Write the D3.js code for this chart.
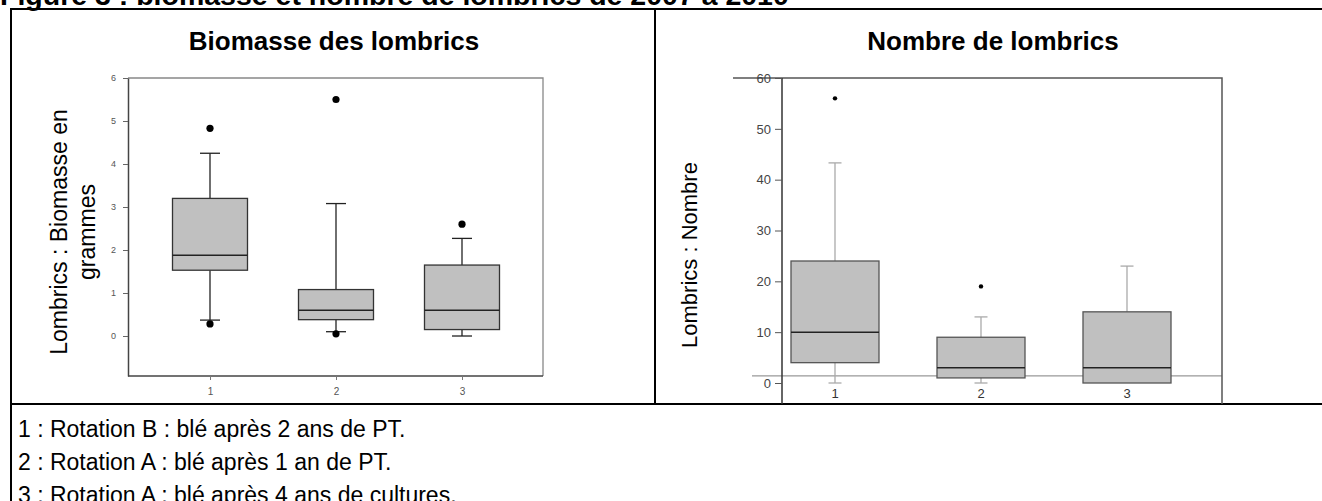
<!DOCTYPE html>
<html>
<head>
<meta charset="utf-8">
<script src="https://cdn.jsdelivr.net/npm/d3@7"></script>
<style>
  body { margin: 0; background: #fff; }
  svg { display: block; font-family: 'Liberation Sans', Arial, sans-serif; }
</style>
</head>
<body>
<svg id="fig" width="1322" height="501"></svg>
<script>
// groups shared by both panels
const groups = ['1', '2', '3'];

// Biomasse (g) : box statistics
const biomLow = [0.37, 0.1, 0];
const biomQ1 = [1.53, 0.38, 0.15];
const biomMedian = [1.88, 0.6, 0.6];
const biomQ3 = [3.2, 1.08, 1.65];
const biomHigh = [4.25, 3.08, 2.27];
const biomOutliers = [[4.83, 0.28], [5.5, 0.05], [2.6]];
const biomTicks = [0, 1, 2, 3, 4, 5, 6];

// Nombre : box statistics
const nbLow = [0, 0, null];
const nbQ1 = [4, 1, 0];
const nbMedian = [10, 3, 3];
const nbQ3 = [24, 9, 14];
const nbHigh = [43.3, 13, 23];
const nbOutliers = [[56], [19], []];
const nbTicks = [0, 10, 20, 30, 40, 50, 60];
const nbRefLine = 1.4;

const legendLines = [
  '1 : Rotation B : blé après 2 ans de PT.',
  '2 : Rotation A : blé après 1 an de PT.',
  '3 : Rotation A : blé après 4 ans de cultures.'
];

const svg = d3.select('#fig');

// ---- page frame ----
svg.append('text')
  .attr('x', 0).attr('y', 5)
  .attr('font-size', 28.5).attr('font-weight', 'bold')
  .text('Figure 3 : biomasse et nombre de lombrics de 2007 à 2010');

const frame = svg.append('g').attr('stroke', '#000').attr('stroke-width', 2);
frame.append('line').attr('x1', 10).attr('x2', 1322).attr('y1', 9).attr('y2', 9);
frame.append('line').attr('x1', 11).attr('x2', 11).attr('y1', 8).attr('y2', 501);
frame.append('line').attr('x1', 655).attr('x2', 655).attr('y1', 9).attr('y2', 404);
frame.append('line').attr('x1', 10).attr('x2', 1322).attr('y1', 404).attr('y2', 404);

svg.selectAll('.legend')
  .data(legendLines)
  .enter().append('text')
  .attr('class', 'legend')
  .attr('x', 18)
  .attr('y', (d, i) => 437 + i * 33)
  .attr('font-size', 23)
  .text(d => d);

// box plot helper
function drawBoxes(g, x, y, stats, opt) {
  const rows = groups.map((k, i) => ({
    key: k, low: stats.low[i], q1: stats.q1[i], med: stats.med[i],
    q3: stats.q3[i], high: stats.high[i], out: stats.out[i]
  }));
  const b = g.selectAll('.box').data(rows).enter().append('g').attr('class', 'box');

  // whiskers
  b.filter(d => d.high != null).append('line')
    .attr('x1', d => x(d.key)).attr('x2', d => x(d.key))
    .attr('y1', d => y(d.q3)).attr('y2', d => y(d.high))
    .attr('stroke', opt.whisker).attr('stroke-width', 1.3);
  b.filter(d => d.high != null).append('line')
    .attr('x1', d => x(d.key) - opt.cap / 2).attr('x2', d => x(d.key) + opt.cap / 2)
    .attr('y1', d => y(d.high)).attr('y2', d => y(d.high))
    .attr('stroke', opt.whisker).attr('stroke-width', 1.3);
  b.filter(d => d.low != null).append('line')
    .attr('x1', d => x(d.key)).attr('x2', d => x(d.key))
    .attr('y1', d => y(d.q1)).attr('y2', d => y(d.low))
    .attr('stroke', opt.whisker).attr('stroke-width', 1.3);
  b.filter(d => d.low != null).append('line')
    .attr('x1', d => x(d.key) - opt.cap / 2).attr('x2', d => x(d.key) + opt.cap / 2)
    .attr('y1', d => y(d.low)).attr('y2', d => y(d.low))
    .attr('stroke', opt.whisker).attr('stroke-width', 1.3);

  b.append('rect')
    .attr('x', d => x(d.key) - opt.width / 2)
    .attr('width', opt.width)
    .attr('y', d => y(d.q3))
    .attr('height', d => y(d.q1) - y(d.q3))
    .attr('fill', '#c0c0c0')
    .attr('stroke', opt.boxStroke).attr('stroke-width', 1.3);

  b.append('line')
    .attr('x1', d => x(d.key) - opt.width / 2).attr('x2', d => x(d.key) + opt.width / 2)
    .attr('y1', d => y(d.med)).attr('y2', d => y(d.med))
    .attr('stroke', '#222').attr('stroke-width', 1.5);

  b.selectAll('.out')
    .data(d => d.out.map(v => ({ key: d.key, v: v })))
    .enter().append('circle')
    .attr('cx', d => x(d.key)).attr('cy', d => y(d.v))
    .attr('r', opt.r).attr('fill', '#000');
}

// ---- left panel : biomasse ----
const xB = d3.scalePoint().domain(groups).range([210, 462]);
const yB = d3.scaleLinear().domain([-0.93, 6]).range([376, 78]);
const left = svg.append('g');

left.append('text')
  .attr('x', 334).attr('y', 50)
  .attr('text-anchor', 'middle')
  .attr('font-size', 26).attr('font-weight', 'bold')
  .text('Biomasse des lombrics');

left.append('text')
  .attr('transform', 'translate(67,232) rotate(-90)')
  .attr('text-anchor', 'middle').attr('font-size', 23)
  .text('Lombrics : Biomasse en');
left.append('text')
  .attr('transform', 'translate(95,232) rotate(-90)')
  .attr('text-anchor', 'middle').attr('font-size', 23)
  .text('grammes');

// light top/right frame
left.append('path')
  .attr('d', `M128,${yB(6)}H543V376`)
  .attr('fill', 'none').attr('stroke', '#888').attr('stroke-width', 1.3);

const axB = left.append('g')
  .attr('transform', 'translate(128,0)')
  .call(d3.axisLeft(yB).tickValues(biomTicks).tickFormat(d3.format('d')).tickSize(5).tickSizeOuter(0));
axB.select('.domain').attr('stroke', '#444').attr('stroke-width', 1.5);
axB.selectAll('.tick line').attr('stroke', '#666');
axB.selectAll('.tick text').attr('fill', '#555').attr('font-size', 9).attr('x', -12);

const axBx = left.append('g')
  .attr('transform', 'translate(0,376)')
  .call(d3.axisBottom(xB).tickSize(4).tickSizeOuter(0));
axBx.select('.domain').attr('d', 'M128,0H543').attr('stroke', '#444').attr('stroke-width', 1.5);
axBx.selectAll('.tick line').attr('stroke', '#777');
axBx.selectAll('.tick text').attr('fill', '#555').attr('font-size', 10).attr('y', 12);

drawBoxes(left, xB, yB,
  { low: biomLow, q1: biomQ1, med: biomMedian, q3: biomQ3, high: biomHigh, out: biomOutliers },
  { width: 75, cap: 20, r: 3.6, whisker: '#222', boxStroke: '#333' });

// ---- right panel : nombre ----
const xN = d3.scalePoint().domain(groups).range([835, 1127]);
const yN = d3.scaleLinear().domain([0, 60]).range([383, 78]);
const right = svg.append('g');

right.append('text')
  .attr('x', 993).attr('y', 50)
  .attr('text-anchor', 'middle')
  .attr('font-size', 26).attr('font-weight', 'bold')
  .text('Nombre de lombrics');

right.append('text')
  .attr('transform', 'translate(697,255) rotate(-90)')
  .attr('text-anchor', 'middle').attr('font-size', 22)
  .text('Lombrics : Nombre');

right.append('line')
  .attr('x1', 752).attr('x2', 1222)
  .attr('y1', yN(nbRefLine)).attr('y2', yN(nbRefLine))
  .attr('stroke', '#999').attr('stroke-width', 1.3);

right.append('path')
  .attr('d', `M733,${yN(60)}H1222V404`)
  .attr('fill', 'none').attr('stroke', '#555').attr('stroke-width', 1.5);
right.append('line')
  .attr('x1', 782).attr('x2', 782).attr('y1', yN(60)).attr('y2', 404)
  .attr('stroke', '#333').attr('stroke-width', 1.5);

const axN = right.append('g')
  .attr('transform', 'translate(782,0)')
  .call(d3.axisLeft(yN).tickValues(nbTicks).tickSize(7).tickSizeOuter(0));
axN.select('.domain').remove();
axN.selectAll('.tick line').attr('stroke', '#555');
axN.selectAll('.tick text').attr('fill', '#444').attr('font-size', 13).attr('x', -11);

drawBoxes(right, xN, yN,
  { low: nbLow, q1: nbQ1, med: nbMedian, q3: nbQ3, high: nbHigh, out: nbOutliers },
  { width: 88, cap: 13, r: 2.2, whisker: '#aaa', boxStroke: '#555' });

right.selectAll('.xlab')
  .data(groups)
  .enter().append('text')
  .attr('class', 'xlab')
  .attr('x', d => xN(d)).attr('y', 398)
  .attr('text-anchor', 'middle')
  .attr('font-size', 13).attr('fill', '#333')
  .text(d => d);
</script>
</body>
</html>
